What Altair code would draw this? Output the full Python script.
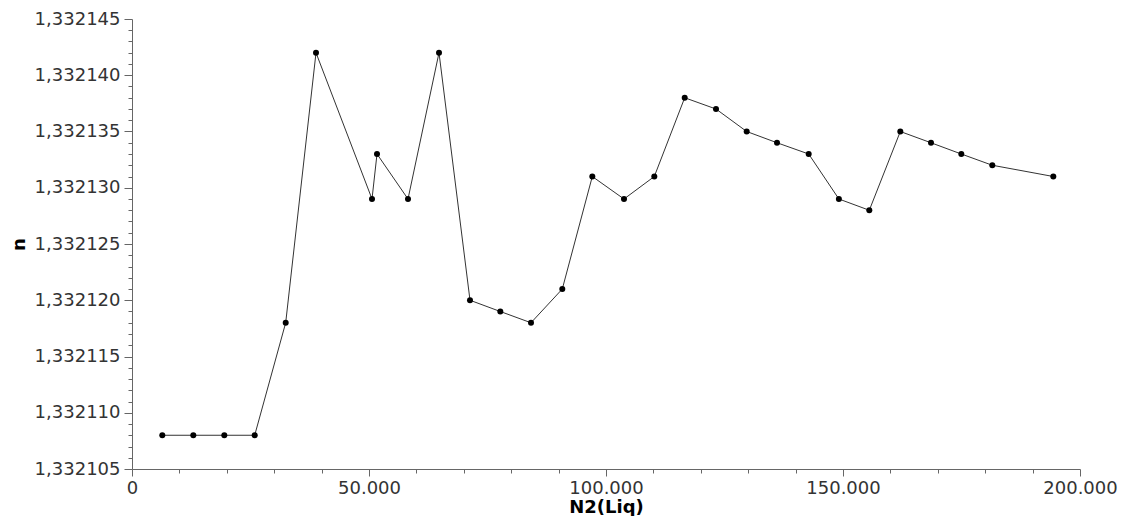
import altair as alt
import pandas as pd

n2_liq = [6392, 12932, 19473, 25886, 32426, 38819, 50633, 51688, 58228, 64768,
          71308, 77700, 84177, 90781, 97110, 103797, 110190, 116603, 123207,
          129684, 136076, 142764, 149135, 155549, 162089, 168565, 174958,
          181498, 194367]
n_values = [1.332108, 1.332108, 1.332108, 1.332108, 1.332118, 1.332142,
            1.332129, 1.332133, 1.332129, 1.332142, 1.332120, 1.332119,
            1.332118, 1.332121, 1.332131, 1.332129, 1.332131, 1.332138,
            1.332137, 1.332135, 1.332134, 1.332133, 1.332129, 1.332128,
            1.332135, 1.332134, 1.332133, 1.332132, 1.332131]

x_ticks = list(range(0, 200001, 10000))
y_ticks = [round(1.332105 + i * 1e-6, 6) for i in range(41)]

df = pd.DataFrame({"x": n2_liq, "n": n_values})

FONT = "DejaVu Sans"

x_axis = alt.Axis(
    title="N2(Liq)",
    values=x_ticks,
    labelExpr="datum.value % 50000 == 0 ? replace(format(datum.value, ','), ',', '.') : ''",
    tickSize={"condition": {"test": "datum.value % 50000 == 0", "value": 7}, "value": 4},
    labelFlush=False,
    labelOverlap=False,
    grid=False,
    labelFont=FONT, labelFontSize=18, labelColor="#333333", labelPadding=3,
    titleFont=FONT, titleFontSize=18, titleFontWeight="bold", titleColor="#000000",
    titlePadding=1,
    domainColor="#666666", tickColor="#666666",
)
y_axis = alt.Axis(
    title="n",
    values=y_ticks,
    labelExpr="round(datum.value * 1e6) % 5 == 0 ? replace(format(datum.value, '.6f'), '.', ',') : ''",
    tickSize={"condition": {"test": "round(datum.value * 1e6) % 5 == 0", "value": 8}, "value": 4},
    labelFlush=False,
    labelOverlap=False,
    grid=False,
    labelFont=FONT, labelFontSize=18, labelColor="#333333", labelPadding=4,
    titleFont=FONT, titleFontSize=18, titleFontWeight="bold", titleColor="#000000",
    titlePadding=6,
    domainColor="#666666", tickColor="#666666",
)

x_enc = alt.X("x:Q", axis=x_axis,
              scale=alt.Scale(domain=[0, 200000], nice=False, zero=False))
y_enc = alt.Y("n:Q", axis=y_axis,
              scale=alt.Scale(domain=[1.332105, 1.332145], nice=False, zero=False))

line = alt.Chart(df).mark_line(color="#333333", strokeWidth=1).encode(x=x_enc, y=y_enc)
points = alt.Chart(df).mark_circle(color="#000000", size=36, opacity=1).encode(x=x_enc, y=y_enc)

chart = (line + points).properties(
    width=948,
    height=450,
    autosize=alt.AutoSizeParams(type="none"),
    padding={"left": 124, "top": 11, "right": 48, "bottom": 47},
).configure_view(stroke=None)

chart.save("out.html", embed_options={"renderer": "svg", "actions": False})
